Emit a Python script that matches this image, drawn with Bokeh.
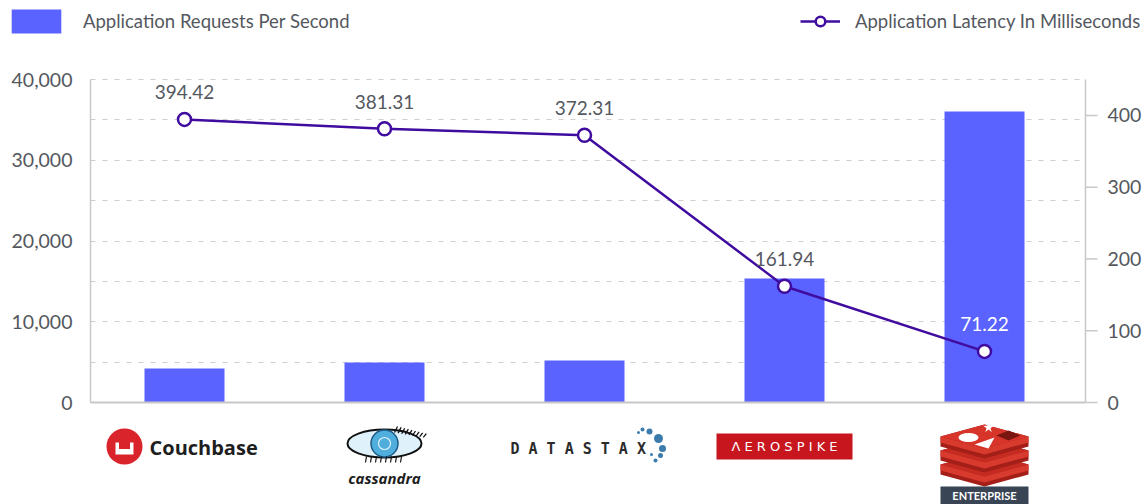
from bokeh.plotting import figure
from bokeh.models import (Range1d, LinearAxis, FixedTicker, NumeralTickFormatter,
                          ColumnDataSource, Legend, LegendItem, Grid)
from bokeh.core.properties import value
from bokeh.embed import file_html
from bokeh.resources import INLINE

# ---------------- data ----------------
categories = ["Couchbase", "Cassandra", "DataStax", "Aerospike", "Redis Enterprise"]
requests_per_sec = [4200, 4950, 5200, 15350, 36050]
latency_ms = [394.42, 381.31, 372.31, 161.94, 71.22]
left_ticks = [0, 10000, 20000, 30000, 40000]
grid_ticks = [5000, 10000, 15000, 20000, 25000, 30000, 35000, 40000]
right_ticks = [0, 100, 200, 300, 400]
bar_label = "Application Requests Per Second"
line_label = "Application Latency In Milliseconds"

# ---------------- style / layout ----------------
BAR = "#5A62FF"
LINE = "#400CA0"
TXT = "#54585e"
GRID = "#cfcfcf"
AXIS = "#c8c8c8"
FONT = "Lato"
TICK_FS = "19.5px"
LABEL_FS = "19px"
LEGEND_FS = "18.5px"

W, H = 1145, 504
PLOT_L, PLOT_R = 90, 1085      # px of the value axes
PLOT_T, PLOT_B = 79, 402       # px of top value and of zero
FIRST_X = 184                  # px of first category centre
XPX = 200.0                    # px per category
YMAX = 40000
RMAX = 450
YPX = (PLOT_B - PLOT_T) / YMAX
RPX = (PLOT_B - PLOT_T) / RMAX
TICK_LEN = 12


def xd(px):
    return (px - FIRST_X) / XPX


XL, XR = xd(PLOT_L), xd(PLOT_R)

p = figure(width=W, height=H,
           x_range=Range1d(xd(0), xd(W)),
           y_range=Range1d(-(H - PLOT_B) / YPX, YMAX + PLOT_T / YPX),
           output_backend="svg", toolbar_location=None,
           x_axis_location=None, y_axis_location=None, min_border=0)
p.outline_line_color = None
p.grid.visible = False
p.extra_y_ranges = {"lat": Range1d(-(H - PLOT_B) / RPX, RMAX + PLOT_T / RPX)}

# left value axis
la = LinearAxis(ticker=FixedTicker(ticks=left_ticks), formatter=NumeralTickFormatter(format="0,0"),
                bounds=(0, YMAX), fixed_location=XL)
la.axis_line_color = AXIS
la.axis_line_width = 1.5
la.major_tick_out = 0
la.major_tick_in = 0
la.minor_tick_out = 0
la.minor_tick_in = 0
la.major_label_standoff = 18
la.major_label_text_font = FONT
la.major_label_text_font_size = TICK_FS
la.major_label_text_color = TXT
p.add_layout(la, "left")

# right latency axis
ra = LinearAxis(y_range_name="lat", ticker=FixedTicker(ticks=right_ticks), bounds=(0, RMAX),
                fixed_location=XR)
ra.axis_line_color = AXIS
ra.axis_line_width = 1.5
ra.major_tick_out = 0
ra.major_tick_in = 0
ra.minor_tick_out = 0
ra.minor_tick_in = 0
ra.major_label_standoff = 22
ra.major_label_text_font = FONT
ra.major_label_text_font_size = TICK_FS
ra.major_label_text_color = TXT
p.add_layout(ra, "right")
# outward tick marks of the right axis
p.segment(x0=[XR] * len(right_ticks), y0=right_ticks,
          x1=[XR + TICK_LEN / XPX] * len(right_ticks), y1=right_ticks,
          y_range_name="lat", line_color=AXIS, line_width=1.5)

# baseline (category axis line, labels replaced by logos)
ba = LinearAxis(ticker=FixedTicker(ticks=[]), bounds=(XL, XR), fixed_location=0)
ba.axis_line_color = AXIS
ba.axis_line_width = 2
ba.major_tick_out = 0
ba.major_tick_in = 0
ba.minor_tick_out = 0
ba.minor_tick_in = 0
p.add_layout(ba, "below")

# dashed horizontal grid
yg = Grid(dimension=1, ticker=FixedTicker(ticks=grid_ticks), grid_line_color=GRID,
          grid_line_dash="5 7", grid_line_width=1)
if "cross_bounds" in Grid.properties():
    yg.cross_bounds = (XL, XR)
p.add_layout(yg)

# ---------------- data marks ----------------
xs = list(range(len(categories)))
LABEL_GAP = 20
label_colors = ["white" if r * YPX > v * RPX + LABEL_GAP + 8 else TXT
                for r, v in zip(requests_per_sec, latency_ms)]
src = ColumnDataSource(dict(
    x=xs, req=requests_per_sec, lat=latency_ms,
    lab=[f"{v:.2f}" for v in latency_ms], labc=label_colors,
))
bars = p.vbar(x="x", top="req", width=0.4, source=src, fill_color=BAR, line_color=None)
ln = p.line("x", "lat", source=src, y_range_name="lat", line_color=LINE, line_width=2.5)
mk = p.scatter("x", "lat", source=src, y_range_name="lat", size=13, fill_color="white",
               line_color=LINE, line_width=2.5)
p.text("x", "lat", text="lab", source=src, y_range_name="lat", text_align="center",
       text_baseline="bottom", y_offset=-LABEL_GAP, text_color="labc",
       text_font=value(FONT), text_font_size=LABEL_FS)

# ---------------- legends ----------------
leg1 = Legend(items=[LegendItem(label=bar_label, renderers=[bars])], location=(5, H - 36),
              glyph_width=62, glyph_height=30, label_standoff=16, padding=0, margin=0,
              border_line_color=None, background_fill_alpha=0,
              label_text_font=FONT, label_text_font_size=LEGEND_FS, label_text_color=TXT)
leg2 = Legend(items=[LegendItem(label=line_label, renderers=[ln, mk])], location=(800, H - 33),
              glyph_width=40, glyph_height=24, label_standoff=15, padding=0, margin=0,
              border_line_color=None, background_fill_alpha=0,
              label_text_font=FONT, label_text_font_size=LEGEND_FS, label_text_color=TXT)
p.add_layout(leg1, "center")
p.add_layout(leg2, "center")


# ---------------- logos (decoration below the axis) ----------------
def X(i, dx):
    return i + dx / XPX


def Y(dy):
    return -dy / YPX


# Couchbase
i = 0
p.scatter([X(i, -60)], [Y(44)], size=36, fill_color="#D9242B", line_color=None)
p.rect([X(i, -60)], [Y(46)], width=18 / XPX, height=12 / YPX, fill_color="white", line_color=None)
p.rect([X(i, -60)], [Y(43)], width=11 / XPX, height=7 / YPX, fill_color="#D9242B", line_color=None)
p.text([X(i, -35)], [Y(45)], text=["Couchbase"], text_align="left", text_baseline="middle",
       text_font=value("Open Sans"), text_font_style="bold", text_font_size="20px", text_color="#1e1e1e")

# Cassandra
i = 1
p.ellipse([X(i, 0)], [Y(41)], width=74 / XPX, height=28 / YPX, fill_color="#dff2fb",
          line_color="#111111", line_width=2)
p.scatter([X(i, 0)], [Y(41)], size=27, fill_color="#4FAEDB", line_color="#1d5b86", line_width=1.5)
p.scatter([X(i, 0)], [Y(41)], size=12, fill_color=None, line_color="#dff2fb", line_width=1.2)
for k in range(9):
    dx = 10 + k * 3.6
    p.segment([X(i, dx)], [Y(30 + k * 0.6)], [X(i, dx + 3)], [Y(24 + k * 0.9)],
              line_color="#111111", line_width=1.3)
for k in range(8):
    dx = -18 + k * 5
    p.segment([X(i, dx)], [Y(54)], [X(i, dx - 1)], [Y(60)], line_color="#111111", line_width=1.2)
p.text([X(i, 0)], [Y(75)], text=["cassandra"], text_align="center", text_baseline="middle",
       text_font=value("Open Sans"), text_font_style="bold italic", text_font_size="15px",
       text_color="#1e1e1e")

# DataStax
i = 2
p.text([X(i, -74)], [Y(46)], text=["D A T A S T A X"], text_align="left", text_baseline="middle",
       text_font=value("DejaVu Sans Mono"), text_font_style="bold", text_font_size="15px",
       text_color="#2b2b2b")
dots_dx = [54, 58, 65, 74, 78, 76, 71, 67]
dots_dy = [30, 27, 29, 36, 46, 53, 58, 52]
dots_sz = [3, 4, 6, 9, 7, 5, 4, 3]
p.scatter([X(i, d) for d in dots_dx], [Y(d) for d in dots_dy], size=dots_sz,
          fill_color="#3c7cad", line_color=None)

# Aerospike
i = 3
p.rect([X(i, 0)], [Y(44)], width=136 / XPX, height=26 / YPX, fill_color="#C8161E", line_color=None)
p.text([X(i, 0)], [Y(44)], text=["Λ E R O S P I K E"], text_align="center", text_baseline="middle",
       text_font=value("DejaVu Sans"), text_font_size="13px", text_color="white")

# Redis Enterprise
i = 4
for base, top_col in [(62, "#C52B20"), (48, "#C52B20"), (34, "#D8352A")]:
    side = [(-44, base), (0, base - 12), (44, base), (44, base + 10), (0, base + 22), (-44, base + 10)]
    p.patch([X(i, a) for a, b in side], [Y(b) for a, b in side], fill_color="#A31F17", line_color=None)
    topf = [(-44, base), (0, base - 12), (44, base), (0, base + 12)]
    p.patch([X(i, a) for a, b in topf], [Y(b) for a, b in topf], fill_color=top_col, line_color=None)
    front = [(-44, base), (0, base + 12), (44, base), (44, base + 6), (0, base + 18), (-44, base + 6)]
    p.patch([X(i, a) for a, b in front], [Y(b) for a, b in front], fill_color="#D93A2E", line_color=None)
p.ellipse([X(i, -16)], [Y(35)], width=20 / XPX, height=9 / YPX, fill_color="white", line_color=None)
p.scatter([X(i, 4)], [Y(25)], size=11, marker="star", fill_color="white", line_color=None)
p.patch([X(i, a) for a in [-10, 10, 4]], [Y(b) for b in [42, 35, 46]], fill_color="white", line_color=None)
p.patch([X(i, a) for a in [12, 24, 36, 24]], [Y(b) for b in [33, 28, 33, 38]], fill_color="#7a1610", line_color=None)
p.rect([X(i, 0)], [Y(93)], width=88 / XPX, height=18 / YPX, fill_color="#394455", line_color=None)
p.text([X(i, 0)], [Y(93)], text=["ENTERPRISE"], text_align="center", text_baseline="middle",
       text_font=value("Lato"), text_font_style="bold", text_font_size="11px", text_color="white")

open("out.html", "w").write(file_html(p, INLINE))
